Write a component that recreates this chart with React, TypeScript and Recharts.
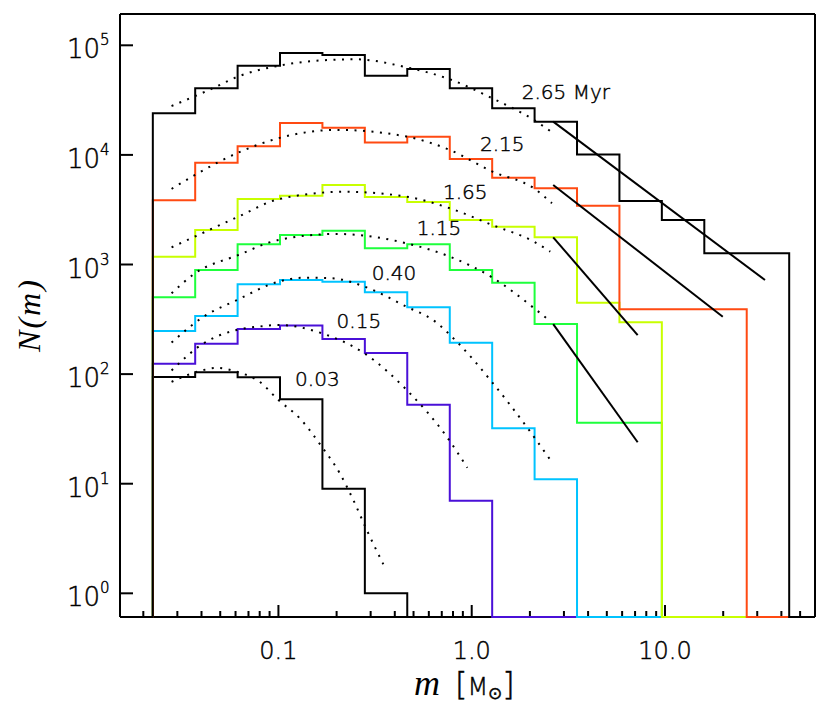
import React from "react";
import { ComposedChart, Line, XAxis, YAxis, ReferenceDot } from "recharts";

// histogram bin edges [Msun], 16 edges -> 15 bins
const BIN_EDGES = [
  0.0224, 0.0371, 0.0615, 0.1019, 0.1689, 0.28, 0.464, 0.77, 1.276, 2.115,
  3.506, 5.81, 9.63, 15.97, 26.47, 43.9,
];

// counts per bin for each snapshot age (0 = empty bin)
const N_003 = [94, 104, 93.5, 59, 9, 1, 0, 0, 0, 0, 0, 0, 0, 0, 0];
const N_015 = [124, 189, 258, 277, 209, 156, 52.6, 7, 0, 0, 0, 0, 0, 0, 0];
const N_040 = [247, 339, 660, 722, 697, 557, 407, 193, 32, 11, 0, 0, 0, 0, 0];
const N_115 = [502, 891, 1528, 1858, 2034, 1406, 1528, 891, 682, 286, 36, 36, 0, 0, 0];
const N_165 = [1180, 2065, 3960, 4250, 5310, 4130, 3720, 2550, 2215, 1770, 448, 297, 0, 0, 0];
const N_215 = [3850, 8500, 11970, 19540, 17700, 13000, 14650, 9180, 6200, 4950, 3440, 390, 390, 390, 0];
const N_265 = [24000, 40500, 65100, 85100, 81500, 52800, 60800, 40500, 26600, 20100, 10100, 3800, 2550, 1265, 1265];

// lognormal fits (dotted), read as [m, N]
const FIT_003 = [[0.028, 85], [0.041, 109], [0.048, 114], [0.061, 105], [0.08, 85], [0.1, 58], [0.129, 39.5], [0.1675, 21.8], [0.208, 12.4], [0.244, 7.1], [0.286, 3.8], [0.349, 1.84]];
const FIT_015 = [[0.028, 108], [0.041, 191], [0.061, 253], [0.08, 272], [0.1, 281], [0.1675, 236], [0.278, 155], [0.461, 71.6], [0.743, 26.8], [0.949, 14]];
const FIT_040 = [[0.028, 194], [0.041, 334], [0.061, 474], [0.1, 697], [0.135, 758], [0.19, 748], [0.28, 627], [0.46, 412], [0.63, 312], [0.85, 192], [1.27, 85], [1.95, 32], [2.6, 15.7]];
const FIT_115 = [[0.028, 546], [0.037, 830], [0.062, 1220], [0.1, 1675], [0.2, 1900], [0.46, 1560], [0.77, 1180], [1.28, 760], [2.1, 400], [2.5, 312]];
const FIT_165 = [[0.028, 1435], [0.037, 1800], [0.062, 2730], [0.1, 3940], [0.22, 4610], [0.46, 4160], [0.77, 3260], [1.28, 2290], [2.1, 1615], [2.55, 1310]];
const FIT_215 = [[0.028, 4900], [0.037, 6560], [0.062, 10500], [0.1, 14200], [0.2, 16900], [0.46, 14700], [0.77, 11100], [1.28, 7030], [2.1, 4950], [2.6, 3620]];
const FIT_265 = [[0.028, 27900], [0.045, 40000], [0.062, 52000], [0.1, 65000], [0.17, 73000], [0.25, 74500], [0.46, 63000], [0.77, 49000], [1.28, 32800], [2.1, 20800], [2.55, 16500]];

// high-mass power-law slopes (solid black)
const PL_115 = [[2.64, 286], [7.22, 23.9]];
const PL_165 = [[2.64, 1770], [7.22, 227]];
const PL_215 = [[2.64, 5310], [19.9, 334]];
const PL_265 = [[2.64, 20100], [32.9, 722]];

// age labels [text, m, N]
const LABELS: [string, number, number][] = [
  ["2.65 Myr", 1.815, 37700],
  ["2.15", 1.104, 12600],
  ["1.65", 0.71, 4540],
  ["1.15", 0.519, 2175],
  ["0.40", 0.304, 840],
  ["0.15", 0.2, 306],
  ["0.03", 0.122, 90.6],
];

const X_MAJOR = [0.1, 1, 10];
const X_MAJOR_LABELS = ["0.1", "1.0", "10.0"];
const X_MINOR = [
  0.02, 0.03, 0.04, 0.05, 0.06, 0.07, 0.08, 0.09,
  0.2, 0.3, 0.4, 0.5, 0.6, 0.7, 0.8, 0.9,
  2, 3, 4, 5, 6, 7, 8, 9,
  20, 30, 40, 50,
];
const Y_TICKS = [1, 10, 100, 1000, 10000, 100000];
const Y_TICK_EXP = ["0", "1", "2", "3", "4", "5"];

const X_DOMAIN = [0.01515, 59.7];
const Y_DOMAIN = [0.608, 193000];

const SANS = "'DejaVu Sans', sans-serif";
const SERIF = "'Liberation Serif', serif";
// thin sans text, slightly thickened with a hairline stroke
const thin = { fontFamily: SANS, fontWeight: 300, fill: "#000", stroke: "#000", strokeWidth: 0.45 };

const HISTS = [
  { key: "h003", counts: N_003, color: "#000000" },
  { key: "h015", counts: N_015, color: "#4a10d8" },
  { key: "h040", counts: N_040, color: "#00c3ff" },
  { key: "h115", counts: N_115, color: "#1eff3c" },
  { key: "h165", counts: N_165, color: "#c8ff00" },
  { key: "h215", counts: N_215, color: "#ff4a12" },
  { key: "h265", counts: N_265, color: "#000000" },
];
const FITS = [FIT_003, FIT_015, FIT_040, FIT_115, FIT_165, FIT_215, FIT_265];
const POWER_LAWS = [PL_115, PL_165, PL_215, PL_265];

// empty bins are drawn along the bottom of the frame
const floor = (v: number) => Math.max(v, Y_DOMAIN[0]);

function histPoints(counts: number[]) {
  const pts = [{ x: X_DOMAIN[0], y: Y_DOMAIN[0] }];
  counts.forEach((c, i) => pts.push({ x: BIN_EDGES[i], y: floor(c) }));
  pts.push({ x: BIN_EDGES[BIN_EDGES.length - 1], y: Y_DOMAIN[0] });
  pts.push({ x: X_DOMAIN[1], y: Y_DOMAIN[0] });
  return pts;
}

// bottom edge of the frame, drawn under the histograms
const FRAME_BOTTOM = [
  { x: X_DOMAIN[0], y: Y_DOMAIN[0] },
  { x: X_DOMAIN[1], y: Y_DOMAIN[0] },
];

const pairs = (arr: number[][]) => arr.map(([x, y]) => ({ x, y }));

const ALL_X_TICKS = [...X_MINOR, ...X_MAJOR].sort((a, b) => a - b);

function BottomTick(props: any) {
  const { x, y, payload } = props;
  const i = X_MAJOR.indexOf(payload.value);
  const len = i >= 0 ? 12 : 6;
  return (
    <g>
      <line x1={x} x2={x} y1={y - 1} y2={y - len} stroke="#000" strokeWidth={2} />
      {i >= 0 && (
        <text x={x} y={y + 42} textAnchor="middle" fontSize={24} {...thin}>
          {X_MAJOR_LABELS[i]}
        </text>
      )}
    </g>
  );
}

function TopTick(props: any) {
  const { x, y, payload } = props;
  const len = X_MAJOR.indexOf(payload.value) >= 0 ? 12 : 6;
  return <line x1={x} x2={x} y1={y} y2={y + len} stroke="#000" strokeWidth={2} />;
}

function LeftTick(props: any) {
  const { x, y, payload } = props;
  const i = Y_TICKS.indexOf(payload.value);
  return (
    <g>
      <line x1={x} x2={x + 13} y1={y} y2={y} stroke="#000" strokeWidth={2} />
      <text x={x - 20} y={y + 13} textAnchor="end" fontSize={26} {...thin}>
        10
      </text>
      <text x={x - 20} y={y} textAnchor="start" fontSize={15} {...thin}>
        {Y_TICK_EXP[i]}
      </text>
    </g>
  );
}

function RightTick(props: any) {
  const { x, y } = props;
  return <line x1={x - 13} x2={x} y1={y} y2={y} stroke="#000" strokeWidth={2} />;
}

const axisLine = { stroke: "#000", strokeWidth: 2 };

export default function App() {
  return (
    <div style={{ position: "absolute", left: 0, top: 0, background: "#fff" }}>
      <ComposedChart width={830} height={713} margin={{ top: 0, right: 0, bottom: 0, left: 0 }}>
        <XAxis
          xAxisId="b"
          dataKey="x"
          type="number"
          scale="log"
          domain={X_DOMAIN}
          ticks={ALL_X_TICKS}
          interval={0}
          height={96}
          tickSize={0}
          tickMargin={0}
          tickLine={false}
          axisLine={false}
          tick={BottomTick}
        />
        <XAxis
          xAxisId="t"
          orientation="top"
          dataKey="x"
          type="number"
          scale="log"
          domain={X_DOMAIN}
          ticks={ALL_X_TICKS}
          interval={0}
          height={14}
          tickSize={0}
          tickMargin={0}
          tickLine={false}
          axisLine={axisLine}
          tick={TopTick}
        />
        <YAxis
          yAxisId="l"
          type="number"
          scale="log"
          domain={Y_DOMAIN}
          ticks={Y_TICKS}
          interval={0}
          width={120}
          tickSize={0}
          tickMargin={0}
          tickLine={false}
          axisLine={axisLine}
          tick={LeftTick}
        />
        <YAxis
          yAxisId="r"
          orientation="right"
          type="number"
          scale="log"
          domain={Y_DOMAIN}
          ticks={Y_TICKS}
          interval={0}
          width={15}
          tickSize={0}
          tickMargin={0}
          tickLine={false}
          axisLine={axisLine}
          tick={RightTick}
        />

        <Line
          xAxisId="b"
          yAxisId="l"
          data={FRAME_BOTTOM}
          dataKey="y"
          type="linear"
          stroke="#000"
          strokeWidth={2}
          dot={false}
          activeDot={false}
          isAnimationActive={false}
        />

        {HISTS.map((h) => (
          <Line
            key={h.key}
            xAxisId="b"
            yAxisId="l"
            data={histPoints(h.counts)}
            dataKey="y"
            type="stepAfter"
            stroke={h.color}
            strokeWidth={2}
            dot={false}
            activeDot={false}
            isAnimationActive={false}
          />
        ))}

        {FITS.map((f, i) => (
          <Line
            key={`fit${i}`}
            xAxisId="b"
            yAxisId="l"
            data={pairs(f)}
            dataKey="y"
            type="monotone"
            stroke="#000"
            strokeWidth={2}
            strokeDasharray="2 6.5"
            dot={false}
            activeDot={false}
            isAnimationActive={false}
          />
        ))}

        {POWER_LAWS.map((p, i) => (
          <Line
            key={`pl${i}`}
            xAxisId="b"
            yAxisId="l"
            data={pairs(p)}
            dataKey="y"
            type="linear"
            stroke="#000"
            strokeWidth={2}
            dot={false}
            activeDot={false}
            isAnimationActive={false}
          />
        ))}

        {LABELS.map(([txt, m, n]) => (
          <ReferenceDot
            key={txt}
            xAxisId="b"
            yAxisId="l"
            x={m}
            y={n}
            r={0}
            ifOverflow="visible"
            shape={(p: any) => (
              <text x={p.cx} y={p.cy + 7} fontSize={20} {...thin}>
                {txt}
              </text>
            )}
          />
        ))}
      </ComposedChart>

      {/* axis titles */}
      <svg width={830} height={713} style={{ position: "absolute", left: 0, top: 0, pointerEvents: "none" }}>
        <text x={414} y={695} fill="#000">
          <tspan fontFamily={SERIF} fontStyle="italic" fontSize={36}>m</tspan>
          <tspan dx={15} fontSize={32} {...thin}>[</tspan>
          <tspan fontSize={24} {...thin}>M</tspan>
          <tspan fontSize={17} dy={4} {...thin}>⊙</tspan>
          <tspan fontSize={32} dy={-4} {...thin}>]</tspan>
        </text>
        <text
          x={29}
          y={315}
          transform="rotate(-90 29 315)"
          textAnchor="middle"
          dominantBaseline="central"
          fontFamily={SERIF}
          fontStyle="italic"
          fontSize={32}
          letterSpacing={2}
          fill="#000"
        >
          N(m)
        </text>
      </svg>
    </div>
  );
}
